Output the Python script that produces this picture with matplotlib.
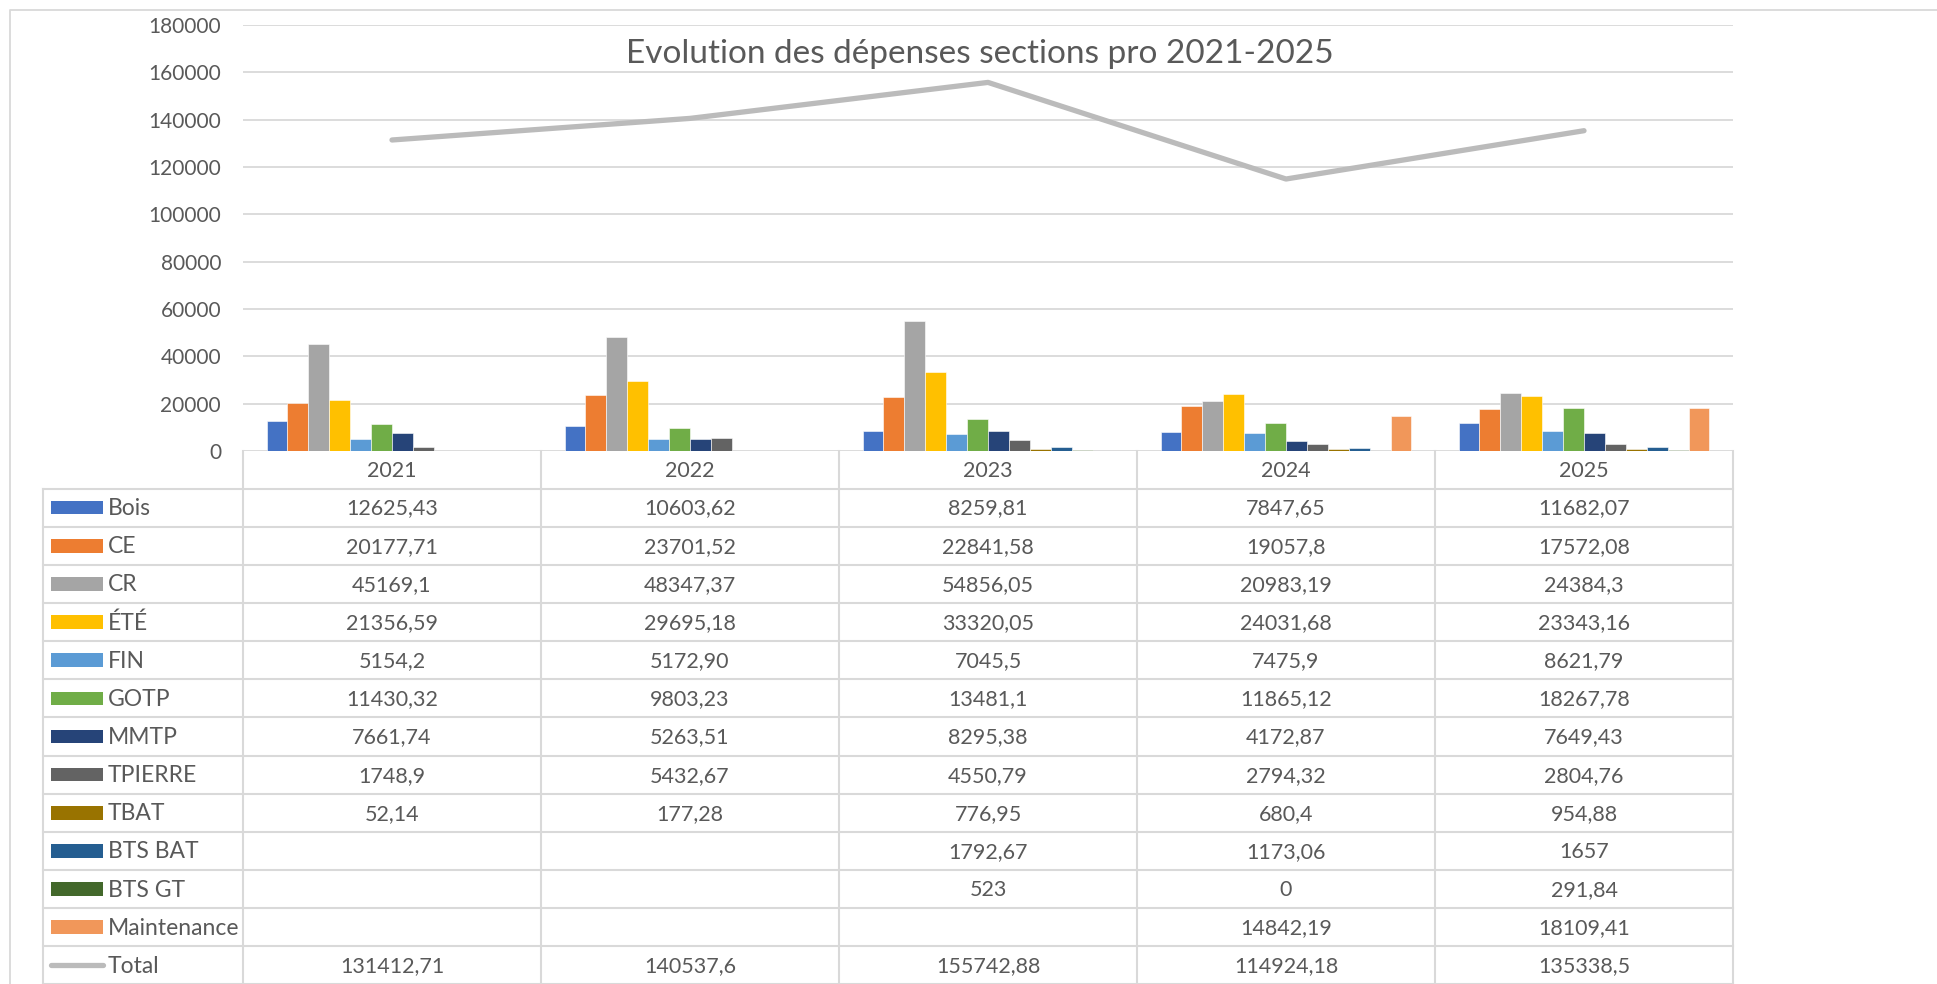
import matplotlib
matplotlib.use("Agg")
import matplotlib.pyplot as plt
from matplotlib.patches import Rectangle
from matplotlib.lines import Line2D

plt.rcParams['font.family'] = ['Lato', 'DejaVu Sans']

# ---------------- data ----------------
years = ["2021", "2022", "2023", "2024", "2025"]
series_names = ["Bois", "CE", "CR", "ÉTÉ", "FIN", "GOTP", "MMTP", "TPIERRE",
                "TBAT", "BTS BAT", "BTS GT", "Maintenance"]
bois = ["12625,43", "10603,62", "8259,81", "7847,65", "11682,07"]
ce = ["20177,71", "23701,52", "22841,58", "19057,8", "17572,08"]
cr = ["45169,1", "48347,37", "54856,05", "20983,19", "24384,3"]
ete = ["21356,59", "29695,18", "33320,05", "24031,68", "23343,16"]
fin = ["5154,2", "5172,90", "7045,5", "7475,9", "8621,79"]
gotp = ["11430,32", "9803,23", "13481,1", "11865,12", "18267,78"]
mmtp = ["7661,74", "5263,51", "8295,38", "4172,87", "7649,43"]
tpierre = ["1748,9", "5432,67", "4550,79", "2794,32", "2804,76"]
tbat = ["52,14", "177,28", "776,95", "680,4", "954,88"]
bts_bat = ["", "", "1792,67", "1173,06", "1657"]
bts_gt = ["", "", "523", "0", "291,84"]
maintenance = ["", "", "", "14842,19", "18109,41"]
total = ["131412,71", "140537,6", "155742,88", "114924,18", "135338,5"]
total_name = "Total"
title = "Evolution des dépenses sections pro 2021-2025"
y_ticks = [0, 20000, 40000, 60000, 80000, 100000, 120000, 140000, 160000, 180000]

series_values = [bois, ce, cr, ete, fin, gotp, mmtp, tpierre, tbat, bts_bat, bts_gt, maintenance]
colors = ["#4472C4", "#ED7D31", "#A5A5A5", "#FFC000", "#5B9BD5", "#70AD47",
          "#264478", "#636363", "#997300", "#255E91", "#43682B", "#F1975A"]
total_color = "#BBBBBB"


def num(s):
    return float(s.replace(",", ".")) if s != "" else None


# ---------------- layout (pixels) ----------------
W, H = 1937, 984
PL, PR, PT, PB = 243, 1733, 25, 451
TL = 43
HEADER_B = 488.5
ROW_H = 38.15
text_col = "#595959"
grid_col = "#D9D9D9"

fig = plt.figure(figsize=(W / 100, H / 100), dpi=100)
fig.patch.set_facecolor("white")

ax = fig.add_axes([PL / W, 1 - PB / H, (PR - PL) / W, (PB - PT) / H])
ax.set_xlim(-0.5, len(years) - 0.5)
ax.set_ylim(0, 180000)
for s in ax.spines.values():
    s.set_visible(False)
ax.set_yticks(y_ticks)
ax.set_yticklabels([str(v) for v in y_ticks], fontsize=15, color=text_col)
ax.tick_params(axis="y", length=0, pad=15.8)
ax.set_xticks([])
ax.grid(axis="y", color=grid_col, linewidth=1.3)
ax.set_axisbelow(True)
ax.patch.set_alpha(0)

n = len(series_names)
bw = 1 / (n + 2.25)
for j, (vals, c) in enumerate(zip(series_values, colors)):
    for i, s in enumerate(vals):
        v = num(s)
        if v is None:
            continue
        ax.bar(i + (j - (n - 1) / 2) * bw, v, width=bw, color=c,
               edgecolor="white", linewidth=0.4, zorder=2)

ax.plot(range(len(years)), [num(s) for s in total], color=total_color,
        linewidth=3.8, solid_capstyle="round", solid_joinstyle="round", zorder=3)

# ---------------- overlay for table ----------------
ov = fig.add_axes([0, 0, 1, 1])
ov.set_xlim(0, W)
ov.set_ylim(H, 0)
ov.axis("off")
ov.patch.set_alpha(0)

# outer chart border
ov.plot([10, 10, W], [H, 10, 10], color=grid_col, linewidth=1.3)

colw = (PR - PL) / len(years)
rows = series_names + [total_name]
all_vals = series_values + [total]
nrows = len(rows)
table_bottom = HEADER_B + nrows * ROW_H

# vertical lines
for k in range(len(years) + 1):
    x = PL + k * colw
    ov.plot([x, x], [PB, table_bottom], color=grid_col, linewidth=1.5)
ov.plot([TL, TL], [HEADER_B, table_bottom], color=grid_col, linewidth=1.5)
# horizontal lines
for r in range(nrows + 1):
    y = HEADER_B + r * ROW_H
    ov.plot([TL, PR], [y, y], color=grid_col, linewidth=1.5)

# header
for i, yr in enumerate(years):
    ov.text(PL + (i + 0.5) * colw, (PB + HEADER_B) / 2 + 1, yr, ha="center",
            va="center", fontsize=15.5, color=text_col)

# rows
for r, (name, vals) in enumerate(zip(rows, all_vals)):
    yc = HEADER_B + (r + 0.5) * ROW_H
    if r < n:
        ov.add_patch(Rectangle((51, yc - 6.8), 52, 13.6, color=colors[r], linewidth=0))
    else:
        ov.add_line(Line2D([51, 103], [yc, yc], color=total_color, linewidth=3.8,
                           solid_capstyle="round"))
    ov.text(108, yc + 1, name, ha="left", va="center", fontsize=16.5, color=text_col)
    for i, s in enumerate(vals):
        if s != "":
            ov.text(PL + (i + 0.5) * colw, yc + 1, s, ha="center", va="center",
                    fontsize=15.5, color=text_col)

# title
fig.text(980 / W, 1 - 63 / H, title, ha="center", va="baseline",
         fontsize=24, color=text_col)

fig.savefig("out.png", dpi=100, facecolor="white")
